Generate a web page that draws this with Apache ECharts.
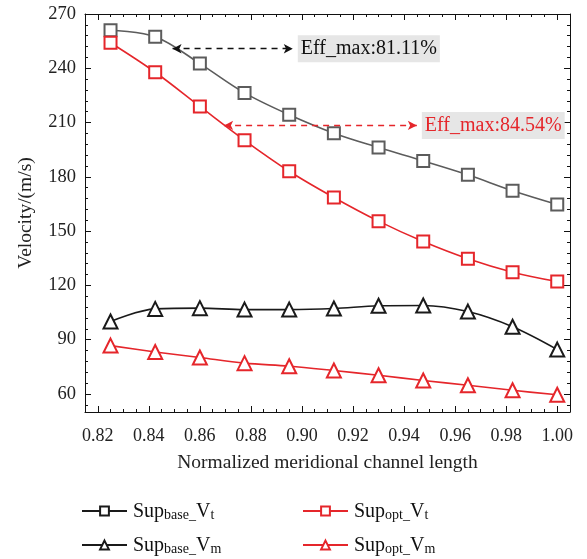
<!DOCTYPE html>
<html><head><meta charset="utf-8">
<script src="https://cdn.jsdelivr.net/npm/echarts@6/dist/echarts.min.js"></script>
<style>html,body{margin:0;padding:0;background:#fff}#c{width:587px;height:559px}</style>
</head><body><div id="c"></div>
<script>
var xVals = [0.825, 0.8425, 0.86, 0.8775, 0.895, 0.9125, 0.93, 0.9475, 0.965, 0.9825, 1.0];
var baseVt = [261.0, 257.4, 242.6, 226.4, 214.3, 204.1, 196.2, 188.8, 181.1, 172.3, 164.7];
var optVt  = [254.1, 237.8, 218.9, 200.2, 183.1, 168.6, 155.5, 144.2, 134.7, 127.3, 122.1];
var baseVm = [100.0, 107.0, 107.4, 106.6, 106.6, 107.2, 108.7, 108.9, 105.5, 97.1, 84.5];
var optVm  = [86.7, 83.2, 80.1, 77.0, 75.3, 72.9, 70.3, 67.4, 64.8, 62.0, 59.5];
var xMajor = [0.82, 0.84, 0.86, 0.88, 0.90, 0.92, 0.94, 0.96, 0.98, 1.00];
var yMajor = [60, 90, 120, 150, 180, 210, 240, 270];
var yMinor = [54, 60, 66, 72, 78, 84, 90, 96, 102, 108, 114, 120, 126, 132, 138, 144, 150, 156, 162, 168, 174, 180, 186, 192, 198, 204, 210, 216, 222, 228, 234, 240, 246, 252, 258, 264, 270];
var annBase = {x1: 0.8493, x2: 0.8964, y: 250.8, text: 'Eff_max:81.11%'};
var annOpt  = {x1: 0.8695, x2: 0.9450, y: 208.4, text: 'Eff_max:84.54%'};

var FONT = 'Liberation Serif';
var GRAY = '#5c5c5c', BLACK = '#1a1a1a', RED = '#e5262b';
function pairs(ys){ return ys.map(function(v,i){ return [xVals[i], v]; }); }

var legendNames = {
  'Sup_base_Vt': '{n|Sup}{s|base_}{n|V}{s|t}',
  'Sup_base_Vm': '{n|Sup}{s|base_}{n|V}{s|m}',
  'Sup_opt_Vt': '{n|Sup}{s|opt_}{n|V}{s|t}',
  'Sup_opt_Vm': '{n|Sup}{s|opt_}{n|V}{s|m}'
};
var legendText = {
  color: '#111', padding: [0,0,0,1],
  rich: {
    n: {fontFamily: FONT, fontSize: 20, color: '#111', lineHeight: 22, verticalAlign: 'bottom'},
    s: {fontFamily: FONT, fontSize: 14, color: '#111', lineHeight: 22, verticalAlign: 'bottom', padding: [8,0,0,0]}
  }
};

function xAx(pos, minor, withLabels){
  var a = {type:'value', position: pos, min:0.815, max:1.005, gridIndex:0,
    splitLine:{show:false},
    axisLine:{show: !minor, onZero:false, lineStyle:{color:'#111', width:1}},
    axisTick:{show:true, inside:true, length: minor?3:6, lineStyle:{color:'#111'}},
    axisLabel:{show:false}};
  if (minor) { a.interval = 0.005; }
  else { a.axisTick.customValues = xMajor; }
  if (withLabels) {
    a.axisLabel = {show:true, customValues: xMajor, fontFamily: FONT, fontSize: 18, color:'#222', margin: 15,
      formatter: function(v){ return v.toFixed(2); }};
    a.name = 'Normalized meridional channel length';
    a.nameLocation = 'middle'; a.nameGap = 41;
    a.nameTextStyle = {fontFamily: FONT, fontSize: 19.5, color:'#222'};
  }
  return a;
}
function yAx(pos, minor, withLabels){
  var a = {type:'value', position: pos, min:50, max:270, gridIndex:0,
    splitLine:{show:false},
    axisLine:{show: !minor, onZero:false, lineStyle:{color:'#111', width:1}},
    axisTick:{show:true, inside:true, length: minor?3:6, customValues: minor ? yMinor : yMajor, lineStyle:{color:'#111'}},
    axisLabel:{show:false}};
  if (withLabels) {
    a.axisLabel = {show:true, customValues: yMajor, fontFamily: FONT, fontSize: 18.5, color:'#222', margin: 9};
  }
  return a;
}

function mkSeries(name, ys, color, symbol, size){
  return {name: name, type:'line', data: pairs(ys), smooth: 0.35,
    symbol: symbol, symbolSize: size, showAllSymbol: true,
    lineStyle:{color: color, width: 1.6},
    itemStyle:{color: color, borderColor: color, borderWidth: 1.6},
    xAxisIndex:0, yAxisIndex:0, z: 3};
}
function annLine(a, color){
  return {silent:true, symbol:['arrow','arrow'], symbolSize:[7,9], animation:false,
    lineStyle:{type:[6,5], color: color, width:1.3},
    label:{show:true, position:'end', distance:5, formatter: a.text,
      fontFamily: FONT, fontSize: 20, color: color, backgroundColor:'#e6e6e6', padding:[4,3,3,3]},
    data:[[{coord:[a.x1, a.y]}, {coord:[a.x2, a.y]}]]};
}

var s1 = mkSeries('Sup_base_Vt', baseVt, GRAY, 'emptyRect', 12);
s1.markLine = annLine(annBase, '#111');
var s2 = mkSeries('Sup_opt_Vt', optVt, RED, 'emptyRect', 12);
s2.markLine = annLine(annOpt, RED);
var s3 = mkSeries('Sup_base_Vm', baseVm, BLACK, 'emptyTriangle', 14);
var s4 = mkSeries('Sup_opt_Vm', optVm, RED, 'emptyTriangle', 14);

function lg(name, left, top, col){
  var item = {name: name};
  if (col) { item.itemStyle = {borderColor: col, color: col}; item.lineStyle = {color: col}; }
  return {data:[item], orient:'horizontal', left:left, top:top, itemWidth:45, itemHeight:11, itemGap:5,
    formatter:function(n){return legendNames[n];}, textStyle: legendText};
}

var chart = echarts.init(document.getElementById('c'));
chart.setOption({
  animation:false,
  backgroundColor:'#fff',
  grid:{left:85, right:17, top:14, bottom:147, containLabel:false},
  xAxis:[xAx('bottom', false, true), xAx('bottom', true, false), xAx('top', false, false), xAx('top', true, false)],
  yAxis:[yAx('left', false, true), yAx('left', true, false), yAx('right', false, false), yAx('right', true, false)],
  legend:[
    lg('Sup_base_Vt', 76, 495, '#1a1a1a'), lg('Sup_base_Vm', 76, 529),
    lg('Sup_opt_Vt', 297, 495), lg('Sup_opt_Vm', 297, 529)
  ],
  graphic:[{type:'text', x:26, y:213, rotation:Math.PI/2,
    style:{text:'Velocity/(m/s)', font:'19.5px "Liberation Serif"', fill:'#222', align:'center', verticalAlign:'middle'}}],
  series:[s1, s2, s3, s4]
});
</script></body></html>
